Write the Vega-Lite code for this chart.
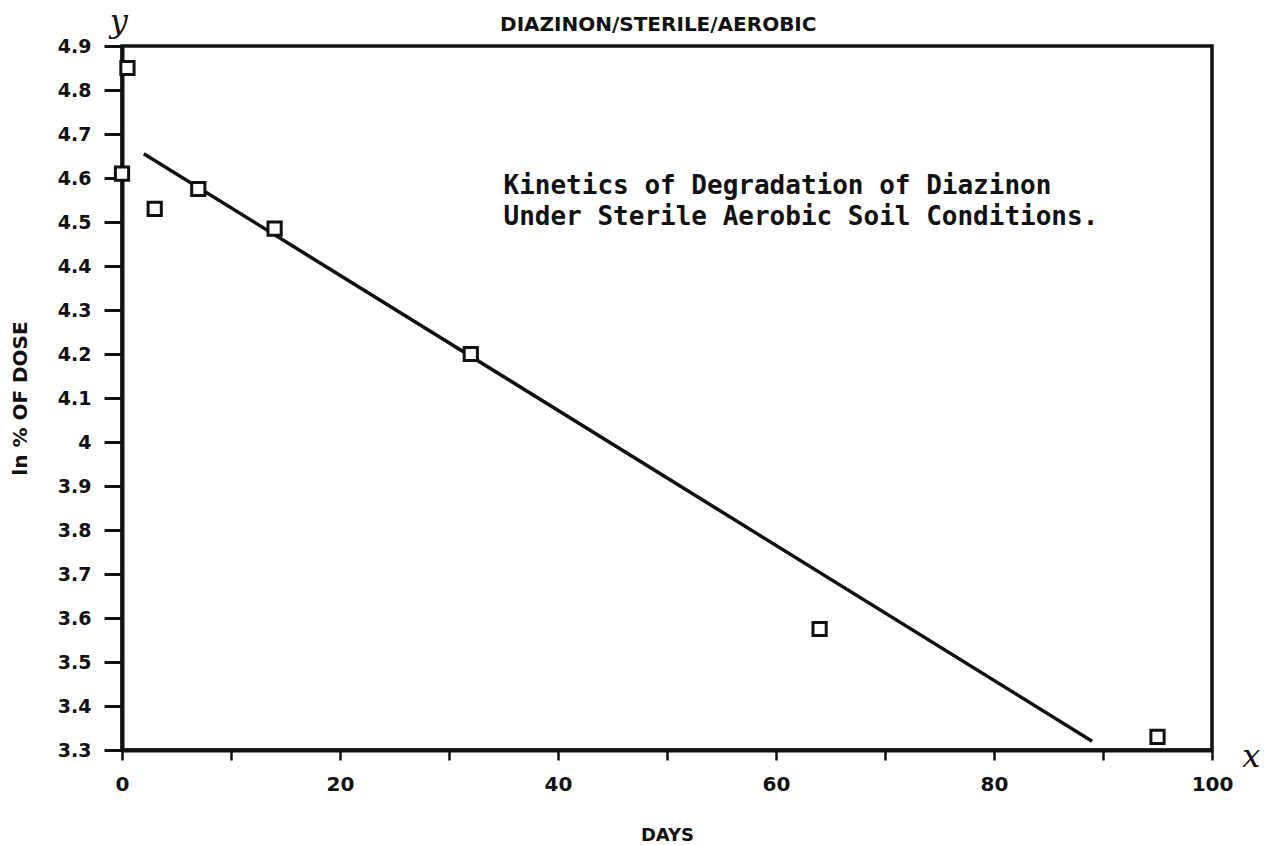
{
  "$schema": "https://vega.github.io/schema/vega-lite/v6.json",
  "autosize": "none",
  "width": 1090,
  "height": 704,
  "padding": {"left": 122, "top": 46, "right": 52, "bottom": 95},
  "background": "white",
  "config": {
    "view": {"stroke": "#111", "strokeWidth": 3.5},
    "font": "DejaVu Sans"
  },
  "datasets": {
    "points": [
      {"day": 0, "value": 4.61},
      {"day": 0.5, "value": 4.85},
      {"day": 3, "value": 4.53},
      {"day": 7, "value": 4.575},
      {"day": 14, "value": 4.485},
      {"day": 32, "value": 4.2},
      {"day": 64, "value": 3.575},
      {"day": 95, "value": 3.33}
    ],
    "fit": [
      {"day": 2, "value": 4.655},
      {"day": 89, "value": 3.32}
    ],
    "notes": [
      {"day": 35, "value": 4.582, "label": "Kinetics of Degradation of Diazinon"},
      {"day": 35, "value": 4.511, "label": "Under Sterile Aerobic Soil Conditions."}
    ],
    "heading": [
      {"day": 49.2, "value": 4.948, "label": "DIAZINON/STERILE/AEROBIC"}
    ],
    "letters": [
      {"day": -0.3, "value": 4.955, "label": "y"},
      {"day": 103.6, "value": 3.285, "label": "x"}
    ]
  },
  "layer": [
    {
      "data": {"name": "fit"},
      "mark": {"type": "line", "color": "#111", "strokeWidth": 3.5},
      "encoding": {
        "x": {
          "field": "day",
          "type": "quantitative",
          "scale": {"domain": [0, 100], "nice": false},
          "axis": {
            "title": "DAYS",
            "values": [0, 10, 20, 30, 40, 50, 60, 70, 80, 90, 100],
            "labelExpr": "datum.value % 20 === 0 ? datum.label : ''",
            "grid": false,
            "domainColor": "#111",
            "domainWidth": 4,
            "tickColor": "#111",
            "tickWidth": 2.5,
            "tickSize": 10,
            "labelPadding": 14,
            "labelFont": "DejaVu Sans",
            "labelFontSize": 20,
            "labelFontWeight": "bold",
            "labelColor": "#111",
            "labelFlush": false,
            "labelOverlap": false,
            "titleFont": "DejaVu Sans",
            "titleFontSize": 18,
            "titleFontWeight": "bold",
            "titleColor": "#111",
            "titleX": 545,
            "titleY": 85,
            "titleAlign": "center",
            "titleBaseline": "middle"
          }
        },
        "y": {
          "field": "value",
          "type": "quantitative",
          "scale": {"domain": [3.3, 4.9], "nice": false, "zero": false},
          "axis": {
            "title": "ln % OF DOSE",
            "values": [3.3, 3.4, 3.5, 3.6, 3.7, 3.8, 3.9, 4.0, 4.1, 4.2, 4.3, 4.4, 4.5, 4.6, 4.7, 4.8, 4.9],
            "format": ".1~f",
            "grid": false,
            "domainColor": "#111",
            "domainWidth": 4,
            "tickColor": "#111",
            "tickWidth": 3,
            "tickSize": 18,
            "labelPadding": 13,
            "labelFont": "DejaVu Sans",
            "labelFontSize": 19,
            "labelFontWeight": "bold",
            "labelColor": "#111",
            "labelFlush": false,
            "labelOverlap": false,
            "titleFont": "DejaVu Sans",
            "titleFontSize": 20,
            "titleFontWeight": "bold",
            "titleColor": "#111",
            "titleAngle": 270,
            "titleX": -102,
            "titleY": 352,
            "titleAlign": "center",
            "titleBaseline": "middle"
          }
        }
      }
    },
    {
      "data": {"name": "points"},
      "mark": {"type": "point", "shape": "square", "filled": false, "fill": "white", "stroke": "#111", "strokeWidth": 3, "size": 175, "opacity": 1},
      "encoding": {
        "x": {"field": "day", "type": "quantitative"},
        "y": {"field": "value", "type": "quantitative"}
      }
    },
    {
      "data": {"name": "notes"},
      "mark": {"type": "text", "align": "left", "baseline": "middle", "font": "DejaVu Sans Mono", "fontSize": 26, "fontWeight": "bold", "color": "#111"},
      "encoding": {
        "x": {"field": "day", "type": "quantitative"},
        "y": {"field": "value", "type": "quantitative"},
        "text": {"field": "label"}
      }
    },
    {
      "data": {"name": "heading"},
      "mark": {"type": "text", "align": "center", "baseline": "middle", "font": "DejaVu Sans", "fontSize": 20, "fontWeight": "bold", "color": "#111"},
      "encoding": {
        "x": {"field": "day", "type": "quantitative"},
        "y": {"field": "value", "type": "quantitative"},
        "text": {"field": "label"}
      }
    },
    {
      "data": {"name": "letters"},
      "mark": {"type": "text", "align": "center", "baseline": "middle", "font": "DejaVu Serif", "fontStyle": "italic", "fontSize": 32, "color": "#111"},
      "encoding": {
        "x": {"field": "day", "type": "quantitative"},
        "y": {"field": "value", "type": "quantitative"},
        "text": {"field": "label"}
      }
    }
  ]
}
